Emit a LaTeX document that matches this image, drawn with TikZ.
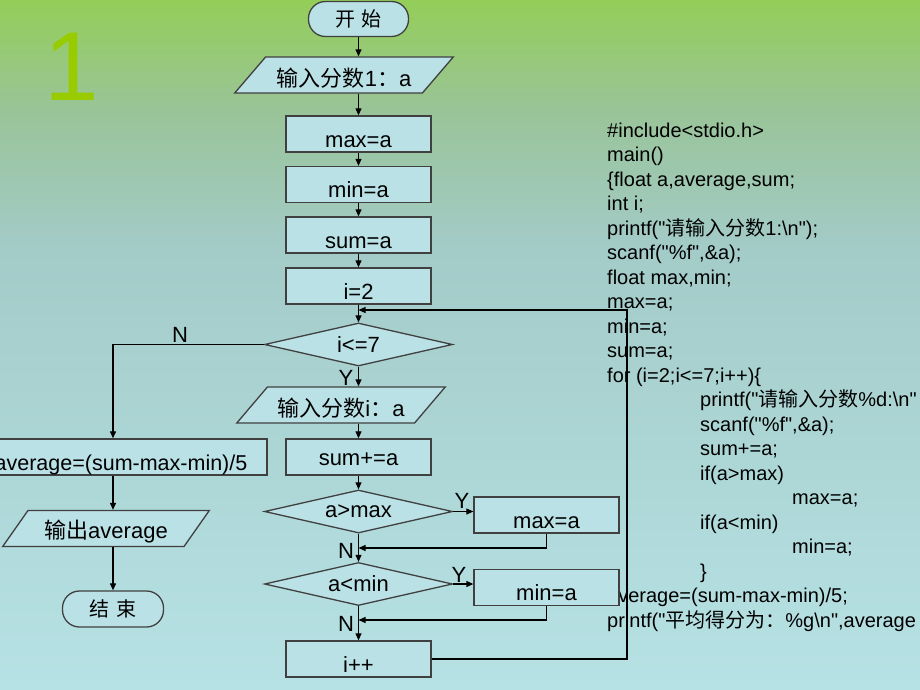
\documentclass[tikz,border=0pt]{standalone}
\usepackage{fontspec}
\setmainfont{Liberation Sans}[Ligatures=TeXOff]
\newfontfamily\cjk{Noto Sans CJK SC}
\usetikzlibrary{shapes.geometric,arrows.meta}
\newcommand{\zh}[1]{{\cjk #1}}
\definecolor{bgtop}{RGB}{148,206,88}
\definecolor{bgupper}{RGB}{153,196,152}
\definecolor{bgmid}{RGB}{163,203,200}
\definecolor{bgbot}{RGB}{183,226,229}
\definecolor{boxfill}{RGB}{186,225,230}
\definecolor{onegreen}{RGB}{153,204,0}
\pgfdeclareverticalshading{slidebg}{100bp}{color(0bp)=(bgbot); color(25bp)=(bgbot); color(57bp)=(bgmid); color(67bp)=(bgupper); color(75bp)=(bgtop); color(100bp)=(bgtop)}
\tikzset{
  flow/.style={draw=black!75, fill=boxfill, line width=1.3pt, inner sep=0pt, font=\fontsize{22}{24}\selectfont},
  procbox/.style={flow, rectangle, minimum width=145pt, minimum height=36pt, text height=26pt, text depth=0pt},
  termbox/.style={flow, rectangle, rounded corners=17pt, minimum width=100pt, minimum height=35pt, font=\fontsize{20}{22}\selectfont},
  iobox/.style={flow, trapezium, trapezium left angle=41, trapezium right angle=139, trapezium stretches=true, minimum height=36pt, text height=23pt, text depth=0pt},
  testbox/.style={flow, diamond, aspect=4.37, minimum width=188pt, minimum height=43pt},
  flowline/.style={line width=1.1pt, -{Triangle[length=7pt,width=6pt]}},
  yn/.style={inner sep=0pt, font=\fontsize{22}{24}\selectfont},
  codeline/.style={anchor=base west, inner sep=0pt, font=\fontsize{20}{24}\selectfont}
}
\begin{document}
\begin{tikzpicture}[x=1pt, y=-1pt]
  \shade[shading=slidebg] (0,0) rectangle (920,690);
  \useasboundingbox (0,0) rectangle (920,690);

  \node[inner sep=0pt, text=onegreen, font=\fontsize{98}{98}\selectfont] (slidenum) at (72,67) {1};

  % program text, lines 24.5pt apart
  \foreach \n/\x/\txt in {0/607/{\#include<stdio.h>}, 1/607/{main()}, 2/607/{\{float a,average,sum;},
      3/607/{int i;}, 4/607/{printf("\zh{请输入分数}1:\textbackslash n");}, 5/607/{scanf("\%f",\&a);},
      6/607/{float max,min;}, 7/607/{max=a;}, 8/607/{min=a;}, 9/607/{sum=a;},
      10/607/{for (i=2;i<=7;i++)\{}, 11/700/{printf("\zh{请输入分数}\%d:\textbackslash n"},
      12/700/{scanf("\%f",\&a);}, 13/700/{sum+=a;}, 14/700/{if(a>max)}, 15/792/{max=a;},
      16/700/{if(a<min)}, 17/792/{min=a;}, 18/700/{\}}, 19/607/{average=(sum-max-min)/5;},
      20/607/{printf("\zh{平均得分为：}\%g\textbackslash n",average}}
    \node[codeline] (code\n) at (\x,137+24.5*\n) {\txt};

  % main column
  \node[termbox] (start) at (358.5,19) {\zh{开\hspace{6pt}始}};
  \node[iobox, minimum width=219pt] (in1) at (344,75) {\zh{输入分数}1\zh{：}a};
  \node[procbox] (max) at (358.5,134) {max=a};
  \node[procbox] (min) at (358.5,184.5) {min=a};
  \node[procbox] (sum) at (358.5,235) {sum=a};
  \node[procbox] (i2) at (358.5,286) {i=2};
  \node[testbox] (cond) at (358.5,344.5) {i<=7};
  \node[iobox, minimum width=209pt] (in2) at (341,405) {\zh{输入分数}i\zh{：}a};
  \node[procbox, text height=17pt] (sumadd) at (358.5,457) {sum+=a};
  \node[testbox] (cmax) at (358.5,511.5) {a>max};
  \node[procbox] (bmax) at (546.5,515) {max=a};
  \node[testbox] (cmin) at (358.5,584) {a<min};
  \node[procbox] (bmin) at (546.5,587.5) {min=a};
  \node[procbox] (inc) at (358.5,659) {i++};

  % exit column
  \node[procbox, minimum width=292pt, font=\fontsize{21.5}{24}\selectfont] (avg) at (121,457) {average=(sum-max-min)/5};
  \node[iobox, minimum width=207pt, trapezium left angle=45, trapezium right angle=135, text height=20pt] (out) at (106,528.5) {\zh{输出}average};
  \node[termbox, minimum width=101pt, minimum height=36pt] (end) at (113,609) {\zh{结\hspace{7pt}束}};

  \coordinate (loopin) at (358.5,310);
  \coordinate (loopx) at (627,310);
  \coordinate (joinmax) at (358.5,548);
  \coordinate (joinmin) at (358.5,620);

  \draw[flowline] (start.south) -- (start.south |- in1.north);
  \draw[flowline] (max |- in1.south) -- (max.north);
  \draw[flowline] (max) -- (min);
  \draw[flowline] (min) -- (sum);
  \draw[flowline] (sum) -- (i2);
  \draw[flowline] (i2.south) -- (cond.north);
  \draw[flowline] (inc.east) -- (inc.east -| loopx) -- (loopx) -- (loopin);
  \draw[flowline] (cond.west) -| (end |- avg.north);
  \draw[flowline] (cond.south) -- (cond.south |- in2.north);
  \draw[flowline] (sumadd |- in2.south) -- (sumadd.north);
  \draw[flowline] (sumadd) -- (cmax);
  \draw[flowline] (cmax.east) -- (cmax.east -| bmax.west);
  \draw[flowline] (bmax.south) |- (joinmax);
  \draw[flowline] (cmax.south) -- (cmin.north);
  \draw[flowline] (cmin.east) -- (cmin.east -| bmin.west);
  \draw[flowline] (bmin.south) |- (joinmin);
  \draw[flowline] (cmin.south) -- (inc.north);
  \draw[flowline] (end |- avg.south) -- (end |- out.north);
  \draw[flowline] (end |- out.south) -- (end.north);

  \node[yn] (no1) at (180,335) {N};
  \node[yn] (yes1) at (346,378) {Y};
  \node[yn] (yes2) at (462,501) {Y};
  \node[yn] (no2) at (346,551) {N};
  \node[yn] (yes3) at (459,575) {Y};
  \node[yn] (no3) at (346,624) {N};
\end{tikzpicture}
\end{document}
